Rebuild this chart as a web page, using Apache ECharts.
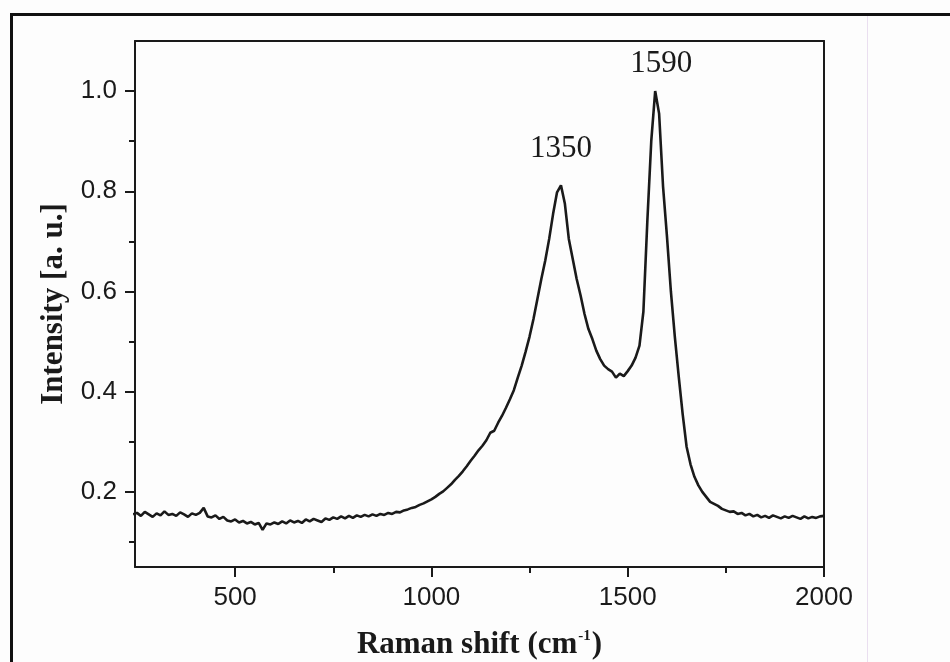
<!DOCTYPE html>
<html>
<head>
<meta charset="utf-8">
<title>Raman spectrum</title>
<script src="https://cdn.jsdelivr.net/npm/echarts@6/dist/echarts.min.js"></script>
<style>
  html, body { margin: 0; padding: 0; background: #fdfdfd; }
  #raman-chart { width: 950px; height: 662px; }
</style>
</head>
<body>
<div id="raman-chart"></div>
<script>
// spectrum: 240 .. 2000 cm-1, every 10 cm-1
var shiftStart = 240;
var shiftStep = 10;
var intensity = [
  0.155, 0.158, 0.152, 0.160, 0.155, 0.150, 0.157, 0.153, 0.161, 0.154, // 240
  0.156, 0.152, 0.159, 0.155, 0.150, 0.157, 0.154, 0.158, 0.168, 0.151, // 340
  0.149, 0.153, 0.146, 0.150, 0.143, 0.141, 0.145, 0.139, 0.142, 0.137, // 440
  0.140, 0.135, 0.138, 0.124, 0.137, 0.135, 0.139, 0.136, 0.141, 0.137, // 540
  0.143, 0.139, 0.142, 0.138, 0.145, 0.141, 0.146, 0.143, 0.140, 0.147, // 640
  0.144, 0.149, 0.146, 0.151, 0.147, 0.152, 0.148, 0.153, 0.150, 0.154, // 740
  0.151, 0.155, 0.152, 0.156, 0.154, 0.158, 0.156, 0.160, 0.159, 0.163, // 840
  0.165, 0.168, 0.170, 0.174, 0.177, 0.181, 0.185, 0.190, 0.196, 0.201, // 940
  0.208, 0.215, 0.224, 0.232, 0.241, 0.251, 0.262, 0.272, 0.283, 0.292, // 1040
  0.303, 0.318, 0.322, 0.338, 0.352, 0.368, 0.385, 0.403, 0.428, 0.452, // 1140
  0.480, 0.510, 0.545, 0.585, 0.625, 0.662, 0.705, 0.755, 0.798, 0.812, // 1240
  0.775, 0.705, 0.665, 0.625, 0.592, 0.555, 0.525, 0.505, 0.482, 0.465, // 1340
  0.452, 0.445, 0.440, 0.428, 0.436, 0.431, 0.441, 0.452, 0.468, 0.492, // 1440
  0.560, 0.740, 0.900, 1.000, 0.955, 0.810, 0.710, 0.600, 0.510, 0.430, // 1540
  0.355, 0.290, 0.255, 0.230, 0.213, 0.200, 0.190, 0.180, 0.176, 0.172, // 1640
  0.166, 0.163, 0.160, 0.161, 0.156, 0.158, 0.153, 0.156, 0.151, 0.154, // 1740
  0.149, 0.152, 0.148, 0.153, 0.150, 0.147, 0.151, 0.148, 0.152, 0.149, // 1840
  0.146, 0.151, 0.147, 0.150, 0.148, 0.151, 0.152                       // 1940
];

var xLabels = [500, 1000, 1500, 2000];
var xMinorTicks = [750, 1250, 1750];
var yLabels = [0.2, 0.4, 0.6, 0.8, 1.0];
var yMinorTicks = [0.1, 0.3, 0.5, 0.7, 0.9];

// D and G band labels, placed over the drawn peaks
var peakShifts = [1330, 1570];
var peakLabels = ["1350", "1590"];
var peakOffsets = [[0, -36], [6, -27]];

var spectrum = [];
intensity.forEach(function(v, i) {
  spectrum.push([shiftStart + i * shiftStep, v]);
});

var peakPoints = peakShifts.map(function(s, i) {
  var idx = (s - shiftStart) / shiftStep;
  return {
    coord: [s, intensity[idx]],
    label: { formatter: peakLabels[i], offset: peakOffsets[i] }
  };
});

var xMin = 245, xMax = 2000;
var yMin = 0.05, yMax = 1.1;
var sansFont = '"Liberation Sans", Arial, sans-serif';
var serifFont = '"Liberation Serif", "Times New Roman", serif';
var ink = "#1a1a1a";

var chart = echarts.init(document.getElementById("raman-chart"));
var option = {
  backgroundColor: "#fdfdfd",
  animation: false,
  grid: { left: 135, right: 126, top: 41, bottom: 95, containLabel: false, outerBoundsMode: "none" },
  xAxis: [
    {
      type: "value",
      min: xMin,
      max: xMax,
      name: "{b|Raman shift (cm}{s|-1}{b|)}",
      nameLocation: "middle",
      nameGap: 62,
      nameTextStyle: {
        rich: {
          b: { fontFamily: serifFont, fontWeight: "bold", fontSize: 31, color: ink, lineHeight: 32 },
          s: { fontFamily: serifFont, fontWeight: "bold", fontSize: 15, color: ink, verticalAlign: "top", lineHeight: 32, padding: [0, 1, 14, 1] }
        }
      },
      axisLine: { lineStyle: { color: ink, width: 2 } },
      axisTick: { customValues: xLabels, length: 10, lineStyle: { color: ink, width: 2 } },
      axisLabel: {
        customValues: xLabels,
        margin: 18,
        fontFamily: sansFont,
        fontSize: 26,
        color: ink,
        formatter: function(v) {
          return String(v);
        }
      },
      splitLine: { show: false }
    },
    {
      type: "value",
      min: xMin,
      max: xMax,
      position: "bottom",
      axisLine: { show: false },
      axisTick: { customValues: xMinorTicks, length: 6, lineStyle: { color: ink, width: 2 } },
      axisLabel: { show: false },
      splitLine: { show: false }
    },
    {
      type: "value",
      min: xMin,
      max: xMax,
      position: "top",
      axisLine: { lineStyle: { color: ink, width: 2 } },
      axisTick: { show: false },
      axisLabel: { show: false },
      splitLine: { show: false }
    }
  ],
  yAxis: [
    {
      type: "value",
      min: yMin,
      max: yMax,
      name: "Intensity [a. u.]",
      nameLocation: "middle",
      nameGap: 62,
      nameTextStyle: { fontFamily: serifFont, fontWeight: "bold", fontSize: 31, color: ink },
      axisLine: { lineStyle: { color: ink, width: 2 } },
      axisTick: { customValues: yLabels, length: 10, lineStyle: { color: ink, width: 2 } },
      axisLabel: {
        customValues: yLabels,
        margin: 18,
        fontFamily: sansFont,
        fontSize: 26,
        color: ink,
        formatter: function(v) {
          return v.toFixed(1);
        }
      },
      splitLine: { show: false }
    },
    {
      type: "value",
      min: yMin,
      max: yMax,
      position: "left",
      axisLine: { show: false },
      axisTick: { customValues: yMinorTicks, length: 6, lineStyle: { color: ink, width: 2 } },
      axisLabel: { show: false },
      splitLine: { show: false }
    },
    {
      type: "value",
      min: yMin,
      max: yMax,
      position: "right",
      axisLine: { lineStyle: { color: ink, width: 2 } },
      axisTick: { show: false },
      axisLabel: { show: false },
      splitLine: { show: false }
    }
  ],
  series: [
    {
      name: "Raman",
      type: "line",
      data: spectrum,
      showSymbol: false,
      clip: true,
      lineStyle: { color: ink, width: 2.6 },
      markPoint: {
        symbol: "rect",
        symbolSize: 1,
        itemStyle: { color: "rgba(0,0,0,0)" },
        label: {
          show: true,
          position: "inside",
          fontFamily: serifFont,
          fontSize: 31,
          color: ink
        },
        data: peakPoints
      }
    }
  ],
  // scanned page frame and the faint margin rule
  graphic: [
    { type: "line", shape: { x1: 10, y1: 14.5, x2: 950, y2: 14.5 }, style: { stroke: "#111", lineWidth: 3 } },
    { type: "line", shape: { x1: 11.5, y1: 13, x2: 11.5, y2: 662 }, style: { stroke: "#111", lineWidth: 3 } },
    { type: "line", shape: { x1: 867.5, y1: 16, x2: 867.5, y2: 662 }, style: { stroke: "#eadff0", lineWidth: 1 } }
  ]
};
chart.setOption(option);
window.addEventListener("resize", chart.resize);
</script>
</body>
</html>
